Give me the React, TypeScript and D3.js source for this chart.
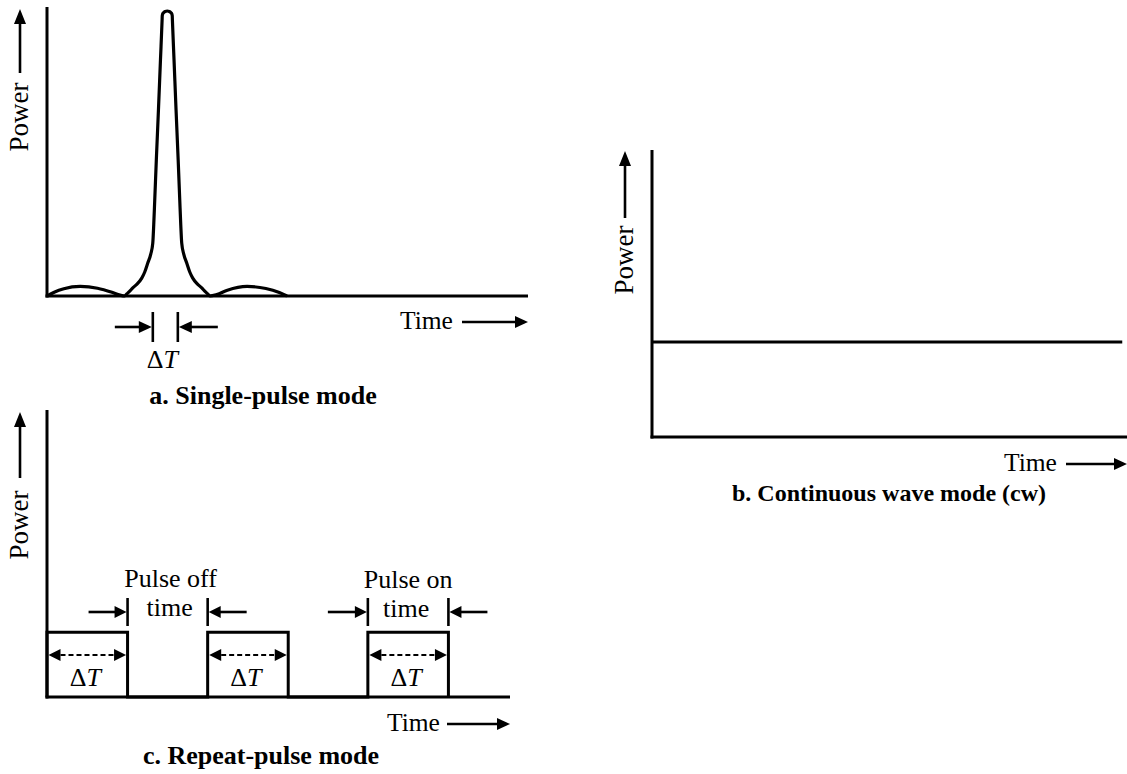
import React from "react";
import * as d3 from "d3";

// ---------- DATA ----------
// Panel a: single pulse (time in arbitrary units 0..100, power in % of full scale)
const singleTime = [
  0, 1.5, 3.5, 6.9, 10.5, 13.5, 15.2,
  16.16, 16.58, 17.1, 17.83, 18.76, 19.7, 20.32, 20.95, 21.57, 21.99, 22.19, 22.4, 22.73, 23.17, 23.59, 23.93, 23.96, 24.04, 24.17, 24.38, 24.58,
  25.0,
  25.42, 25.62, 25.83, 25.96, 26.04, 26.07, 26.41, 26.83, 27.27, 27.6, 27.81, 28.01, 28.43, 29.05, 29.68, 30.3, 31.24, 32.17, 32.9, 33.42, 33.84,
  35.3, 37.5, 41.6, 45.5, 48.3, 49.9,
];
const singlePower = [
  0, 1.3, 2.5, 3.3, 2.7, 1.3, 0.3,
  0, 0.7, 1.5, 2.8, 4.2, 6.2, 8.3, 11.4, 14.5, 18.3, 24.6, 33.2, 47.1, 64.4, 81.7, 95.5, 96.9, 97.58, 97.92, 98.27, 98.48,
  98.62,
  98.48, 98.27, 97.92, 97.58, 96.9, 95.5, 81.7, 64.4, 47.1, 33.2, 24.6, 18.3, 14.5, 11.4, 8.3, 6.2, 4.2, 2.8, 1.5, 0.7, 0,
  0.5, 2.0, 3.3, 2.6, 1.2, 0,
];
const singleDeltaT = [22.0, 27.2]; // pulse width markers

// Panel b: continuous wave
const cwLevel = 33.1;

// Panel c: repeat pulses
const pulseStarts = [0, 34.7, 69.3];
const pulseWidth = 17.4;
const pulseLevel = 22.6;

// Labels
const labelPower = "Power";
const labelTime = "Time";
const titleA = "a. Single-pulse mode";
const titleB = "b. Continuous wave mode (cw)";
const titleC = "c. Repeat-pulse mode";
const labelOff = ["Pulse off", "time"];
const labelOn = ["Pulse on", "time"];

// ---------- STYLE ----------
const FONT = "'Liberation Serif', 'Times New Roman', Times, serif";
const INK = "#000";

type ArrowProps = { x1: number; y1: number; x2: number; y2: number; hl?: number; hw?: number; sw?: number };
function Arrow({ x1, y1, x2, y2, hl = 12, hw = 12, sw = 2.5 }: ArrowProps) {
  const dx = x2 - x1, dy = y2 - y1;
  const L = Math.hypot(dx, dy);
  const ux = dx / L, uy = dy / L;
  const bx = x2 - ux * hl, by = y2 - uy * hl;
  const px = -uy * hw / 2, py = ux * hw / 2;
  return (
    <g>
      <line x1={x1} y1={y1} x2={bx + ux * 1} y2={by + uy * 1} stroke={INK} strokeWidth={sw} />
      <path d={`M${x2},${y2}L${bx + px},${by + py}L${bx - px},${by - py}Z`} fill={INK} />
    </g>
  );
}

function DoubleArrow({ x1, x2, y, hl = 12, hw = 12 }: { x1: number; x2: number; y: number; hl?: number; hw?: number }) {
  return (
    <g>
      <line x1={x1 + hl} y1={y} x2={x2 - hl} y2={y} stroke={INK} strokeWidth={2.2} strokeDasharray="5,3" />
      <path d={`M${x1},${y}L${x1 + hl},${y - hw / 2}L${x1 + hl},${y + hw / 2}Z`} fill={INK} />
      <path d={`M${x2},${y}L${x2 - hl},${y - hw / 2}L${x2 - hl},${y + hw / 2}Z`} fill={INK} />
    </g>
  );
}

function DeltaT({ x, y, size = 26 }: { x: number; y: number; size?: number }) {
  return (
    <text x={x} y={y} textAnchor="middle" fontFamily={FONT} fontSize={size} fill={INK}>
      Δ<tspan fontStyle="italic">T</tspan>
    </text>
  );
}

function PowerLabel({ x, arrowBottom, arrowTop, textCenter }: { x: number; arrowBottom: number; arrowTop: number; textCenter: number }) {
  return (
    <g>
      <Arrow x1={x} y1={arrowBottom} x2={x} y2={arrowTop} hl={15} hw={12} sw={2.6} />
      <text transform={`translate(${x + 8},${textCenter}) rotate(-90)`} textAnchor="middle" fontFamily={FONT} fontSize={27} fill={INK}>
        {labelPower}
      </text>
    </g>
  );
}

function TimeLabel({ x, y, arrowX1, arrowX2 }: { x: number; y: number; arrowX1: number; arrowX2: number }) {
  return (
    <g>
      <text x={x} y={y} fontFamily={FONT} fontSize={25.5} fill={INK}>{labelTime}</text>
      <Arrow x1={arrowX1} y1={y - 7} x2={arrowX2} y2={y - 7} hl={13} hw={12} sw={2.6} />
    </g>
  );
}

export default function App() {
  // Panel a scales
  const xa = d3.scaleLinear().domain([0, 100]).range([47, 528]);
  const ya = d3.scaleLinear().domain([0, 100]).range([296, 7]);
  const pulseLine = d3
    .line<number>()
    .x((_, i) => xa(singleTime[i]))
    .y((d) => ya(d))
    .curve(d3.curveMonotoneX);
  const pulsePath = pulseLine(singlePower) || "";

  // Panel b scales
  const xb = d3.scaleLinear().domain([0, 100]).range([652, 1127]);
  const yb = d3.scaleLinear().domain([0, 100]).range([437, 150]);

  // Panel c scales
  const xc = d3.scaleLinear().domain([0, 100]).range([47, 510]);
  const yc = d3.scaleLinear().domain([0, 100]).range([697, 410]);

  const pulseTrain = (() => {
    const p = d3.path();
    p.moveTo(xc(0), yc(0));
    pulseStarts.forEach((s) => {
      p.lineTo(xc(s), yc(0));
      p.lineTo(xc(s), yc(pulseLevel));
      p.lineTo(xc(s + pulseWidth), yc(pulseLevel));
      p.lineTo(xc(s + pulseWidth), yc(0));
    });
    return p.toString();
  })();

  const offL = xc(pulseStarts[0] + pulseWidth);
  const offR = xc(pulseStarts[1]);
  const onL = xc(pulseStarts[2]);
  const onR = xc(pulseStarts[2] + pulseWidth);

  const dL = xa(singleDeltaT[0]);
  const dR = xa(singleDeltaT[1]);

  return (
    <svg width={1127} height={774} style={{ position: "absolute", left: 0, top: 0, background: "#fff" }}>
      <rect width={1127} height={774} fill="#fff" />

      {/* ---------------- Panel a ---------------- */}
      <g>
        <path d={pulsePath} fill="none" stroke={INK} strokeWidth={3.2} strokeLinejoin="round" />
        <line x1={xa(0)} y1={ya(100)} x2={xa(0)} y2={ya(0) + 1.5} stroke={INK} strokeWidth={3} />
        <line x1={xa(0) - 1.5} y1={ya(0)} x2={xa(100)} y2={ya(0)} stroke={INK} strokeWidth={3} />
        <PowerLabel x={20} arrowBottom={73} arrowTop={9} textCenter={117} />
        <TimeLabel x={400} y={329} arrowX1={462} arrowX2={528} />
        {/* Delta T marker */}
        <line x1={dL} y1={312} x2={dL} y2={342} stroke={INK} strokeWidth={2.6} />
        <line x1={dR} y1={312} x2={dR} y2={342} stroke={INK} strokeWidth={2.6} />
        <Arrow x1={dL - 38} y1={327} x2={dL - 1} y2={327} hl={13} hw={12} sw={2.6} />
        <Arrow x1={dR + 40} y1={327} x2={dR + 1} y2={327} hl={13} hw={12} sw={2.6} />
        <DeltaT x={(dL + dR) / 2 - 3} y={368} />
        <text x={263} y={404} textAnchor="middle" fontFamily={FONT} fontSize={26} fontWeight="bold" fill={INK}>{titleA}</text>
      </g>

      {/* ---------------- Panel b ---------------- */}
      <g>
        <line x1={xb(0)} y1={yb(100)} x2={xb(0)} y2={yb(0) + 1.5} stroke={INK} strokeWidth={3} />
        <line x1={xb(0) - 1.5} y1={yb(0)} x2={xb(100)} y2={yb(0)} stroke={INK} strokeWidth={3} />
        <line x1={xb(0)} y1={yb(cwLevel)} x2={xb(99)} y2={yb(cwLevel)} stroke={INK} strokeWidth={3} />
        <PowerLabel x={625} arrowBottom={218} arrowTop={151} textCenter={260} />
        <TimeLabel x={1004} y={471} arrowX1={1066} arrowX2={1127} />
        <text x={889} y={501} textAnchor="middle" fontFamily={FONT} fontSize={24} fontWeight="bold" fill={INK}>{titleB}</text>
      </g>

      {/* ---------------- Panel c ---------------- */}
      <g>
        <path d={pulseTrain} fill="none" stroke={INK} strokeWidth={3} />
        <line x1={xc(0)} y1={yc(100)} x2={xc(0)} y2={yc(0) + 1.5} stroke={INK} strokeWidth={3} />
        <line x1={xc(0) - 1.5} y1={yc(0)} x2={xc(100)} y2={yc(0)} stroke={INK} strokeWidth={3} />
        {pulseStarts.map((s, i) => (
          <g key={i}>
            <DoubleArrow x1={xc(s) + 1.5} x2={xc(s + pulseWidth) - 1.5} y={655} />
            <DeltaT x={xc(s + pulseWidth / 2) - 2} y={686} />
          </g>
        ))}
        {/* pulse off annotation */}
        <line x1={offL} y1={598} x2={offL} y2={626} stroke={INK} strokeWidth={2.6} />
        <line x1={offR} y1={598} x2={offR} y2={626} stroke={INK} strokeWidth={2.6} />
        <Arrow x1={offL - 39} y1={612} x2={offL - 1} y2={612} hl={12} hw={12} sw={2.6} />
        <Arrow x1={offR + 39} y1={612} x2={offR + 1} y2={612} hl={12} hw={12} sw={2.6} />
        <text x={(offL + offR) / 2 + 3} y={587} textAnchor="middle" fontFamily={FONT} fontSize={26} fill={INK}>{labelOff[0]}</text>
        <text x={(offL + offR) / 2 + 2} y={616} textAnchor="middle" fontFamily={FONT} fontSize={26} fill={INK}>{labelOff[1]}</text>
        {/* pulse on annotation */}
        <line x1={onL} y1={598} x2={onL} y2={626} stroke={INK} strokeWidth={2.6} />
        <line x1={onR} y1={598} x2={onR} y2={626} stroke={INK} strokeWidth={2.6} />
        <Arrow x1={onL - 40} y1={612} x2={onL - 1} y2={612} hl={12} hw={12} sw={2.6} />
        <Arrow x1={onR + 39} y1={612} x2={onR + 1} y2={612} hl={12} hw={12} sw={2.6} />
        <text x={(onL + onR) / 2} y={588} textAnchor="middle" fontFamily={FONT} fontSize={26} fill={INK}>{labelOn[0]}</text>
        <text x={(onL + onR) / 2 - 2} y={617} textAnchor="middle" fontFamily={FONT} fontSize={26} fill={INK}>{labelOn[1]}</text>
        <PowerLabel x={20} arrowBottom={478} arrowTop={412} textCenter={525} />
        <TimeLabel x={387} y={731} arrowX1={447} arrowX2={510} />
        <text x={261} y={764} textAnchor="middle" fontFamily={FONT} fontSize={26} fontWeight="bold" fill={INK}>{titleC}</text>
      </g>
    </svg>
  );
}
